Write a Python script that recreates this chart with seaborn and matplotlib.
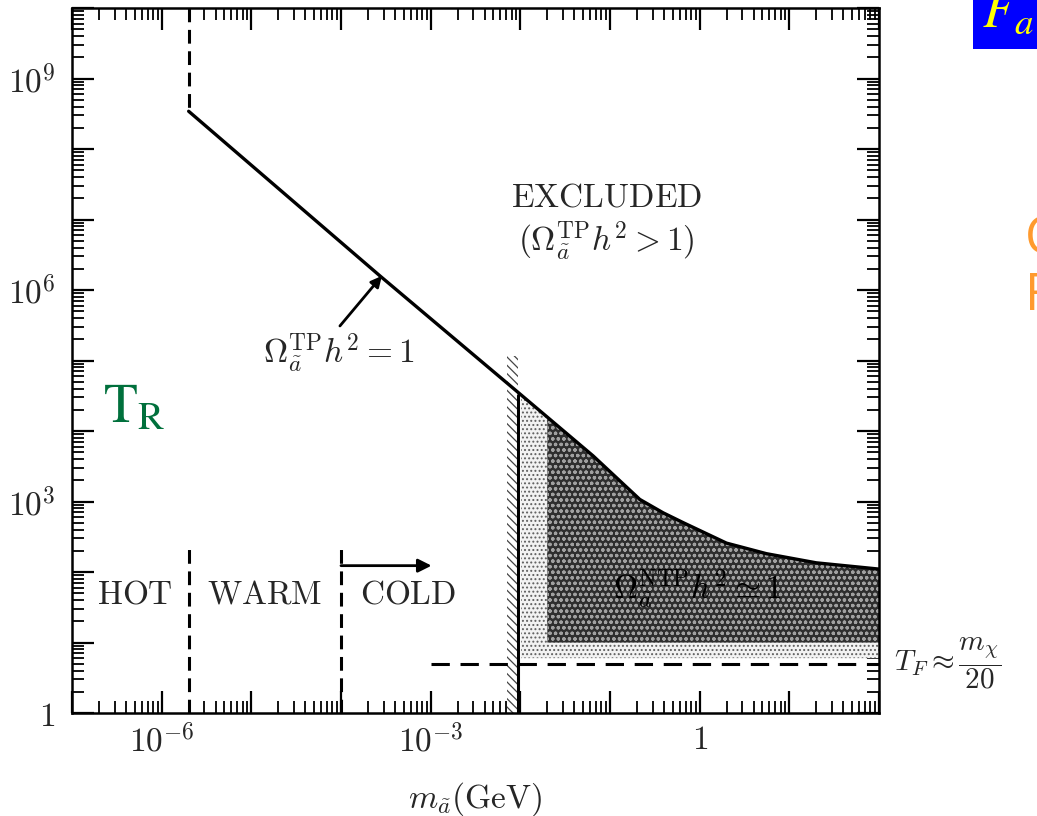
import numpy as np
import matplotlib
matplotlib.use("Agg")
import matplotlib.pyplot as plt
from matplotlib.patches import Rectangle
from matplotlib.ticker import FixedLocator, FixedFormatter, LogLocator, NullFormatter
import seaborn as sns

# Omega_TP h^2 = 1 boundary: reheating temperature (GeV) vs axino mass (GeV)
mass_gev = [2.0e-6, 2.72e-4, 9.44e-3, 6.49e-2, 2.15e-1, 3.91e-1, 6.56e-1,
            1.99, 5.55, 19.95, 100.0]
t_reheat = [3.43e8, 1.585e6, 3.53e4, 4.43e3, 1.07e3, 6.92e2, 5.01e2,
            2.57e2, 1.82e2, 1.35e2, 1.10e2]

# hot / warm / cold boundaries
hot_warm_mass = 2.0e-6
warm_cold_mass = 1.0e-4
regime_marker_top = 2.6e2

# non-thermal production region
ntp_band = [7.1e-3, 9.5e-3]
ntp_band_top = 1.15e5
light_region_mass = [1.02e-2, 100.0]
light_region_floor = 6.0
dark_region_mass = [2.0e-2, 100.0]
dark_region_floor = 10.0

# freeze-out temperature line
tf_mass = [1.0e-3, 100.0]
tf_level = 5.0

x_major = 10.0 ** np.arange(-7, 3)
x_labels = ["", r"$10^{-6}$", "", "", r"$10^{-3}$", "", "", r"$1$", "", ""]
y_major = 10.0 ** np.arange(0, 11)
y_labels = [r"$1$", "", "", r"$10^{3}$", "", "", r"$10^{6}$", "", "",
            r"$10^{9}$", ""]

sns.set_style("ticks")
plt.rcParams["mathtext.fontset"] = "cm"
plt.rcParams["font.family"] = ["DejaVu Serif", "DejaVu Sans"]
plt.rcParams["hatch.linewidth"] = 0.9

W, H = 1037, 816
fig = plt.figure(figsize=(W / 100, H / 100), dpi=100)
fig.patch.set_facecolor("white")
ax = fig.add_axes([72 / W, 1 - 713 / H, (879 - 72) / W, (713 - 8) / H])
ax.set_facecolor("white")
ax.set_xscale("log")
ax.set_yscale("log")
ax.set_xlim(1e-7, 1e2)
ax.set_ylim(1, 1e10)

m_arr = np.array(mass_gev)
t_arr = np.array(t_reheat)


def curve_at(m):
    return 10 ** np.interp(np.log10(m), np.log10(m_arr), np.log10(t_arr))


def region_top(m_lo, m_hi):
    inner = m_arr[(m_arr > m_lo) & (m_arr < m_hi)]
    xs = np.concatenate([[m_lo], inner, [m_hi]])
    return xs, curve_at(xs)


# light dotted NTP region
xs, ys = region_top(*light_region_mass)
ax.fill_between(xs, light_region_floor, ys, facecolor="#f2f2f2",
                edgecolor="#5e5e5e", hatch="....", lw=0, zorder=1)
# dark dotted NTP region
xs, ys = region_top(*dark_region_mass)
ax.fill_between(xs, dark_region_floor, ys, facecolor="#2e2e2e",
                edgecolor="#a0a0a0", hatch="ooo", lw=0, zorder=1.1)

# hatched band at the lower mass limit
ax.fill_betweenx([1, ntp_band_top], ntp_band[0], ntp_band[1],
                 facecolor="white", edgecolor="#444444", hatch="\\\\\\\\",
                 lw=0, zorder=1.2)
ax.plot([ntp_band[1], ntp_band[1]], [1, curve_at(ntp_band[1]) * 0.93],
        color="black", lw=2.2, zorder=3)

# main boundary line
sns.lineplot(x=mass_gev, y=t_reheat, sort=False, color="black", lw=2.4,
             ax=ax, zorder=4)

# dashed regime boundaries
dash_v = (0, (4.5, 2.5))
ax.plot([hot_warm_mass, hot_warm_mass], [1e10, t_reheat[0]], color="black",
        lw=2.2, ls=dash_v)
ax.plot([hot_warm_mass, hot_warm_mass], [1, regime_marker_top], color="black",
        lw=2.2, ls=dash_v)
ax.plot([warm_cold_mass, warm_cold_mass], [1, regime_marker_top],
        color="black", lw=2.2, ls=dash_v)
ax.plot(tf_mass, [tf_level, tf_level], color="black", lw=2.2,
        ls=(0, (6, 3.5)), zorder=3)

# cold arrow
ax.annotate("", xy=(10 ** -2.99, 10 ** 2.09), xytext=(warm_cold_mass, 10 ** 2.09),
            arrowprops=dict(arrowstyle="-|>", color="black", lw=2.0,
                            mutation_scale=20, shrinkA=0, shrinkB=0))

fs = 24
ax.text(10 ** -6.30, 10 ** 1.68, r"$\mathrm{HOT}$", fontsize=fs,
        ha="center", va="center")
ax.text(10 ** -4.85, 10 ** 1.68, r"$\mathrm{WARM}$", fontsize=fs,
        ha="center", va="center")
ax.text(10 ** -3.25, 10 ** 1.68, r"$\mathrm{COLD}$", fontsize=fs,
        ha="center", va="center")
ax.text(10 ** -1.036, 10 ** 7.31, r"$\mathrm{EXCLUDED}$", fontsize=fs,
        ha="center", va="center")
ax.text(10 ** -1.036, 10 ** 6.70,
        r"$(\Omega_{\tilde{a}}^{\mathrm{TP}}h^2>1)$", fontsize=fs,
        ha="center", va="center")
ax.text(10 ** -4.03, 10 ** 5.10, r"$\Omega_{\tilde{a}}^{\mathrm{TP}}h^2=1$",
        fontsize=fs, ha="center", va="center")
ax.annotate("", xy=(10 ** -3.544, 10 ** 6.20), xytext=(10 ** -4.012, 10 ** 5.49),
            arrowprops=dict(arrowstyle="-|>", color="black", lw=2.0,
                            mutation_scale=16, shrinkA=0, shrinkB=0))
ax.text(10 ** -0.03, 10 ** 1.75,
        r"$\Omega_{\tilde{a}}^{\mathrm{NTP}}h^2\simeq 1$", fontsize=fs,
        ha="center", va="center", color="black", zorder=5)

# axes styling
for s in ax.spines.values():
    s.set_linewidth(1.8)
    s.set_color("black")
ax.xaxis.set_major_locator(FixedLocator(x_major))
ax.xaxis.set_major_formatter(FixedFormatter(x_labels))
ax.xaxis.set_minor_locator(LogLocator(base=10, subs=np.arange(2, 10),
                                      numticks=100))
ax.xaxis.set_minor_formatter(NullFormatter())
ax.yaxis.set_major_locator(FixedLocator(y_major))
ax.yaxis.set_major_formatter(FixedFormatter(y_labels))
ax.yaxis.set_minor_locator(LogLocator(base=10, subs=np.arange(2, 10),
                                      numticks=100))
ax.yaxis.set_minor_formatter(NullFormatter())
ax.tick_params(which="both", direction="in", top=True, right=True,
               color="black", labelsize=fs)
ax.tick_params(which="major", length=16, width=1.6)
ax.tick_params(which="minor", length=8.5, width=1.3)
ax.tick_params(axis="x", which="major", pad=8)
ax.tick_params(axis="y", which="major", pad=12)
ax.set_xlabel(r"$m_{\tilde{a}}(\mathrm{GeV})$", fontsize=fs)
ax.xaxis.set_label_coords(0.5, -0.095)

# annotations around the frame
ax.text(1.018, 10 ** 0.70, r"$T_F\approx\dfrac{m_\chi}{20}$", fontsize=21,
        transform=ax.get_yaxis_transform(), ha="left", va="center",
        clip_on=False)
fig.text(103 / W, 1 - 422 / H, r"$\mathrm{T}_{\mathrm{R}}$", fontsize=40,
         color="#00703C", math_fontfamily="stix", ha="left", va="baseline")

fig.patches.append(Rectangle((973 / W, 1 - 49 / H), (W - 973) / W, 49 / H,
                             transform=fig.transFigure, facecolor="#0000FF",
                             edgecolor="none", zorder=0))
fig.text(982 / W, 1 - 27 / H, r"$F_a$", fontsize=38, color="#FFFF00",
         math_fontfamily="stix", ha="left", va="baseline")
fig.text(1025 / W, 1 - 253 / H, "C", fontsize=37, color="#FF9A2E",
         family="Open Sans", ha="left", va="baseline")
fig.text(1025 / W, 1 - 310 / H, "F", fontsize=37, color="#FF9A2E",
         family="Open Sans", ha="left", va="baseline")

fig.savefig("out.png", dpi=100, facecolor="white")
